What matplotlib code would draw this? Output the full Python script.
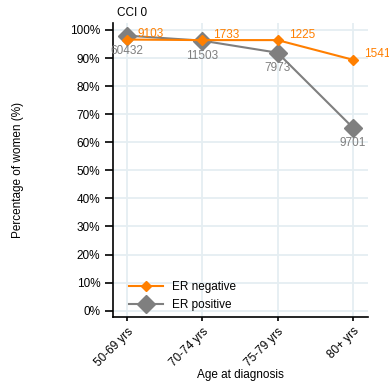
import matplotlib
matplotlib.use("Agg")
import matplotlib.pyplot as plt
import numpy as np

plt.rcParams['font.family'] = ['Liberation Sans', 'DejaVu Sans']

ages = ["50-69 yrs", "70-74 yrs", "75-79 yrs", "80+ yrs"]
er_neg = [96.6, 96.4, 96.4, 89.4]      # % of women, ER negative
er_pos = [98.0, 96.2, 91.9, 65.2]      # % of women, ER positive
n_neg = ["9103", "1733", "1225", "1541"]
n_pos = ["60432", "11503", "7973", "9701"]

orange = "#ff7f00"
grey = "#7f7f7f"

fig = plt.figure(figsize=(3.89, 3.83), dpi=100)
ax = fig.add_axes([0.290, 0.172, 0.656, 0.768])

x = np.arange(len(ages))
ax.plot(x, er_neg, color=orange, marker="D", markersize=5, lw=1.5,
        label="ER negative", zorder=3)
ax.plot(x, er_pos, color=grey, marker="D", markersize=9.5, lw=1.5,
        label="ER positive", zorder=2)

# counts next to each point
for xi, v, t in zip(x, er_neg, n_neg):
    ax.annotate(t, (xi, v), xytext=(8, 4), textcoords="offset points",
                color=orange, fontsize=8.5, ha="left", va="center")
for xi, v, t in zip(x, er_pos, n_pos):
    ax.annotate(t, (xi, v), xytext=(0, -11), textcoords="offset points",
                color=grey, fontsize=8.5, ha="center", va="center")

ax.set_xlim(-0.186, 3.2)
ax.set_ylim(-2.3, 102.5)
ax.set_xticks(x)
ax.set_xticklabels(ages, rotation=45, ha="right", rotation_mode="anchor",
                   fontsize=8.5)
ax.set_yticks(np.arange(0, 101, 10))
ax.set_yticklabels([f"{v}%" for v in range(0, 101, 10)], fontsize=8.5)
ax.tick_params(axis="y", length=6, width=1.2, pad=3)
ax.tick_params(axis="x", length=3, width=1.2, pad=3)

ax.grid(True, color="#e5eef2", lw=1.3)
ax.set_axisbelow(True)
for s in ["top", "right"]:
    ax.spines[s].set_visible(False)
for s in ["left", "bottom"]:
    ax.spines[s].set_linewidth(1.2)

ax.set_xlabel("Age at diagnosis", fontsize=8.5, labelpad=0)
ax.set_ylabel("Percentage of women (%)", fontsize=8.5, labelpad=33)
ax.text(0.015, 1.012, "CCI 0", transform=ax.transAxes, fontsize=8.5,
        ha="left", va="bottom")

ax.legend(loc="lower left", bbox_to_anchor=(0.02, -0.015), frameon=False,
          fontsize=8.5, handlelength=2.9, handletextpad=0.8, labelspacing=0.5)

fig.savefig("out.png", dpi=100)
